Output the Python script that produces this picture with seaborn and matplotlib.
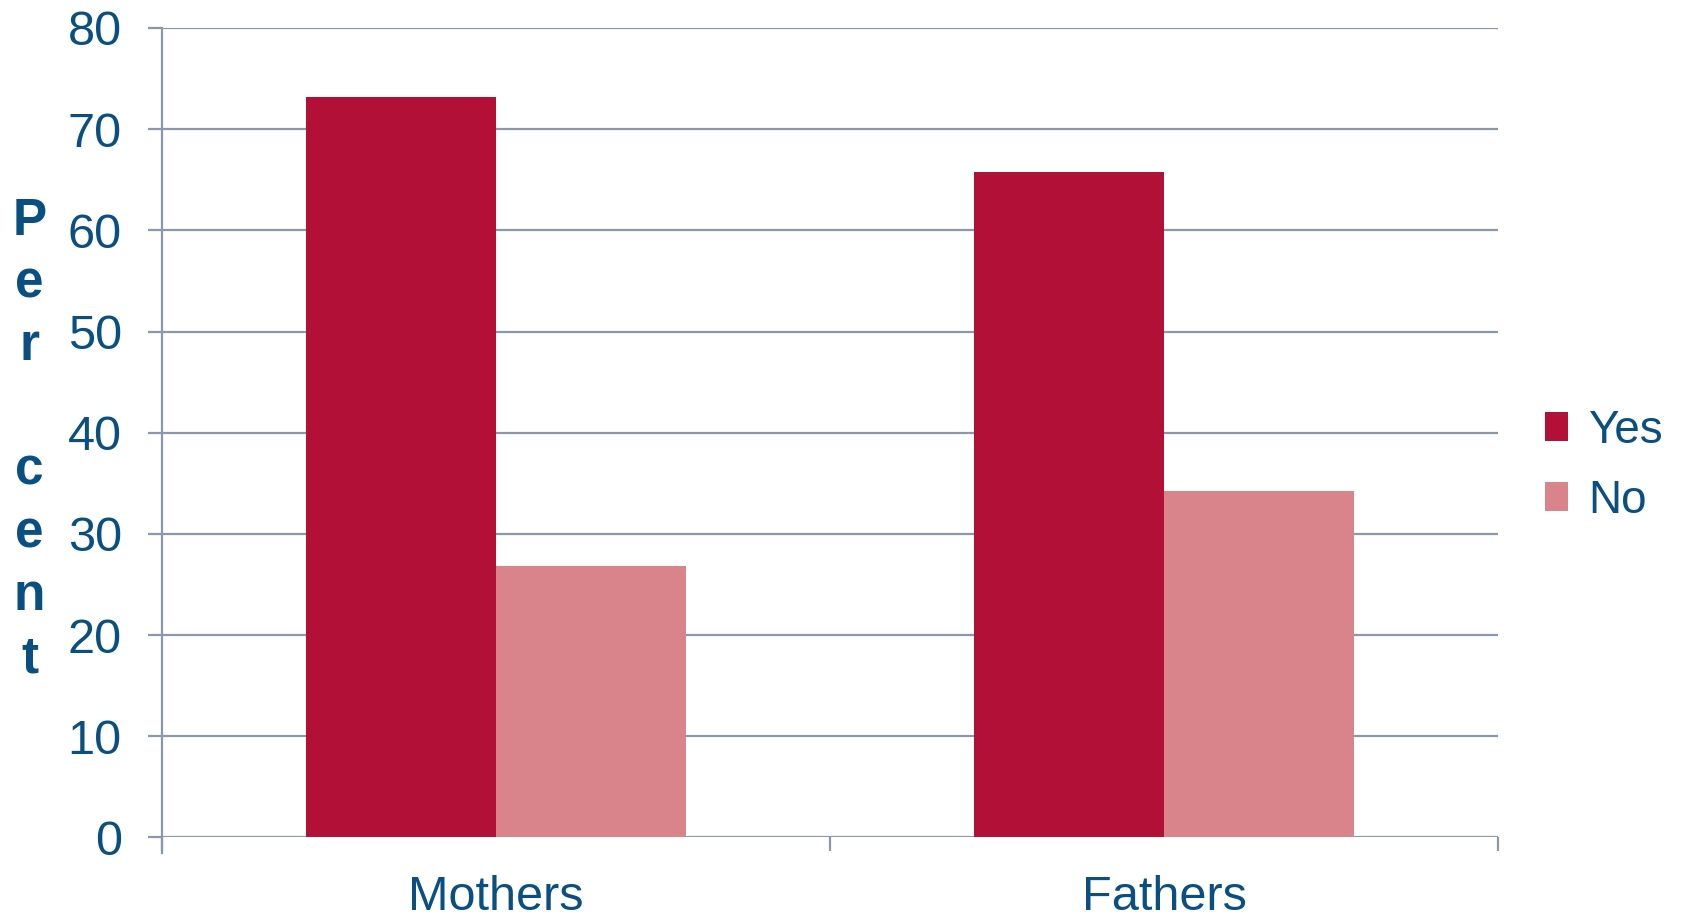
import numpy as np
import pandas as pd
import matplotlib
matplotlib.use("Agg")
import matplotlib.pyplot as plt
import seaborn as sns

# data
groups = ["Mothers", "Fathers"]
answers = ["Yes", "No"]
yes_pct = [73.2, 65.8]
no_pct = [26.8, 34.2]

df = pd.DataFrame({
    "group": groups * 2,
    "answer": ["Yes"] * len(groups) + ["No"] * len(groups),
    "pct": yes_pct + no_pct,
})

text_col = "#0A4F82"
grid_col = "#8A97AD"
palette = {"Yes": "#B31037", "No": "#D9838B"}

sns.set_theme(style="white")
plt.rcParams["font.family"] = ["Liberation Sans", "DejaVu Sans"]

fig = plt.figure(figsize=(16.84, 9.17), dpi=100)
ax = fig.add_axes([0.0962, 0.0867, 0.7933, 0.8828])

sns.barplot(data=df, x="group", y="pct", hue="answer", order=groups,
            hue_order=answers, palette=palette, width=0.57, gap=0,
            saturation=1, edgecolor="none", linewidth=0, ax=ax, zorder=3)

ax.set_ylim(0, 80)
ax.set_xlim(-0.5, 1.5)
ax.set_yticks(np.arange(0, 81, 10))
ax.yaxis.grid(True, color=grid_col, linewidth=1.6, zorder=0)
ax.set_axisbelow(True)

for s in ["top", "right", "bottom"]:
    ax.spines[s].set_visible(False)
ax.spines["left"].set_color(grid_col)
ax.spines["left"].set_linewidth(1.6)
ax.spines["left"].set_bounds(-1.5, 80)

ax.tick_params(axis="y", length=10, width=1.6, color=grid_col,
               labelsize=35, labelcolor=text_col, pad=19, left=True)
ax.tick_params(axis="x", which="major", length=0, labelsize=35,
               labelcolor=text_col, pad=27)
ax.set_xticks([-0.5, 0.5, 1.5], minor=True)
ax.tick_params(axis="x", which="minor", length=10, width=1.6,
               color=grid_col, bottom=True)

ax.set_xlabel("")
ax.set_ylabel("")
# stacked "Percent" label on the left
fig.text(0.0175, 0.52, "P\ne\nr\n\nc\ne\nn\nt", fontsize=37,
         fontweight="bold", color=text_col, linespacing=1.355,
         ha="center", va="center")

handles, labels = ax.get_legend_handles_labels()
leg = ax.legend(handles, labels, loc="center left",
                bbox_to_anchor=(1.035, 0.459), frameon=False, fontsize=33,
                handlelength=0.5, handleheight=0.6, handletextpad=0.45,
                labelspacing=0.57, labelcolor=text_col,
                borderaxespad=0, borderpad=0)

fig.savefig("out.png", dpi=100)
